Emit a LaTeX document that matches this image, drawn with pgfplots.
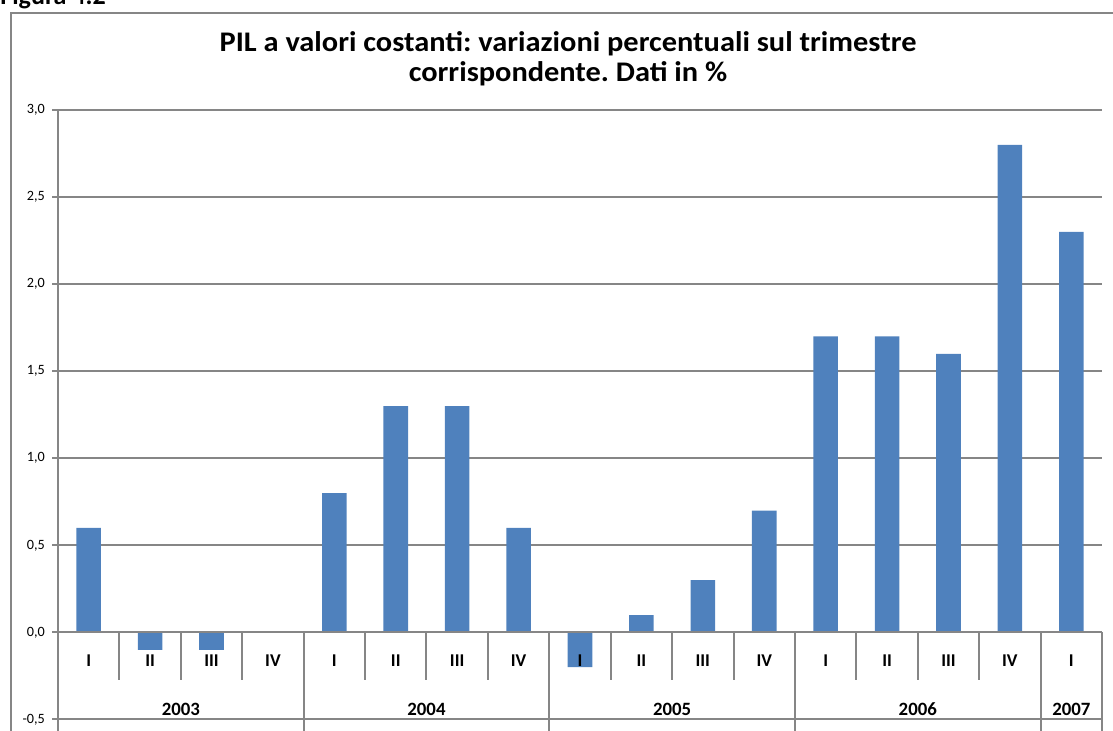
\documentclass[border=0pt]{standalone}
\usepackage{pgfplots}
\pgfplotsset{compat=1.18}
\usepackage{fontspec}
\setmainfont{Carlito}
\newfontfamily\titlefont[FakeStretch=1.07]{Carlito}
\definecolor{barblue}{RGB}{79,129,189}
\definecolor{gridgray}{RGB}{134,134,134}
\tikzset{lab/.style={anchor=base, inner sep=0pt, font=\bfseries\fontsize{9}{10}\selectfont},
         ylab/.style={anchor=base, inner sep=0pt, font=\bfseries\fontsize{9.4}{10}\selectfont}}
\frenchspacing
\begin{document}
\begin{tikzpicture}
\useasboundingbox (0pt,0pt) rectangle (556.5pt,365.5pt);
\clip (0pt,0pt) rectangle (556.5pt,365.5pt);
% outer frame
\draw[gridgray, line width=1pt] (5.5pt,-30pt) |- (600pt,358.85pt);
% cut-off caption
\node[anchor=base west, inner sep=0pt, font=\bfseries\fontsize{13}{15}\selectfont] at (0pt,363.1pt) {Figura 4.2};
% title
\node[anchor=base, inner sep=0pt, font=\titlefont\bfseries\fontsize{14.2}{16}\selectfont] at (284pt,339.65pt) {\frenchspacing PIL a valori costanti: variazioni percentuali sul trimestre};
\node[anchor=base, inner sep=0pt, font=\titlefont\bfseries\fontsize{14.2}{16}\selectfont] at (284pt,324.65pt) {\frenchspacing corrispondente. Dati in \%};
\begin{axis}[
  at={(29pt,5.75pt)}, anchor=south west,
  scale only axis, width=522pt, height=304.75pt,
  xmin=-0.5, xmax=16.5, ymin=-0.5, ymax=3,
  axis x line=none, axis y line*=left,
  ytick={-0.5,0,0.5,1,1.5,2,2.5,3},
  ymajorgrids, grid style={gridgray, line width=1pt},
  axis line style={gridgray, line width=1pt},
  major tick length=3pt, tick align=outside,
  ytick style={gridgray, line width=1pt},
  yticklabel style={font=\fontsize{7.1}{8}\selectfont, text=black},
  /pgf/number format/.cd, fixed, fixed zerofill, precision=1, use comma, assume math mode=true,
  /pgfplots/.cd,
  clip=false,
]
\addplot[ybar, bar width=0.4, fill=barblue, draw=none] coordinates {
(0,0.6) (1,-0.1) (2,-0.1) (3,0) (4,0.8) (5,1.3) (6,1.3) (7,0.6)
(8,-0.2) (9,0.1) (10,0.3) (11,0.7) (12,1.7) (13,1.7) (14,1.6) (15,2.8) (16,2.3)
};
\draw[gridgray, line width=1pt] (axis cs:-0.5,0) -- (axis cs:16.5,0);
\draw[gridgray, line width=1pt] (axis cs:-0.5,-0.5) -- (axis cs:-0.5,-0.7);
\pgfplotsinvokeforeach{3.5,7.5,11.5,15.5,16.5}{
  \draw[gridgray, line width=1pt] (axis cs:#1,0) -- (axis cs:#1,-0.7);
}
\pgfplotsinvokeforeach{0.5,1.5,2.5,4.5,5.5,6.5,8.5,9.5,10.5,12.5,13.5,14.5}{
  \draw[gridgray, line width=1pt] (axis cs:#1,0) -- (axis cs:#1,-0.276);
}
\node[lab] at (axis cs:0,-0.194) {I};
\node[lab] at (axis cs:1,-0.194) {II};
\node[lab] at (axis cs:2,-0.194) {III};
\node[lab] at (axis cs:3,-0.194) {IV};
\node[lab] at (axis cs:4,-0.194) {I};
\node[lab] at (axis cs:5,-0.194) {II};
\node[lab] at (axis cs:6,-0.194) {III};
\node[lab] at (axis cs:7,-0.194) {IV};
\node[lab] at (axis cs:8,-0.194) {I};
\node[lab] at (axis cs:9,-0.194) {II};
\node[lab] at (axis cs:10,-0.194) {III};
\node[lab] at (axis cs:11,-0.194) {IV};
\node[lab] at (axis cs:12,-0.194) {I};
\node[lab] at (axis cs:13,-0.194) {II};
\node[lab] at (axis cs:14,-0.194) {III};
\node[lab] at (axis cs:15,-0.194) {IV};
\node[lab] at (axis cs:16,-0.194) {I};
\node[ylab] at (axis cs:1.5,-0.477) {2003};
\node[ylab] at (axis cs:5.5,-0.477) {2004};
\node[ylab] at (axis cs:9.5,-0.477) {2005};
\node[ylab] at (axis cs:13.5,-0.477) {2006};
\node[ylab] at (axis cs:16,-0.477) {2007};
\end{axis}
\end{tikzpicture}
\end{document}
